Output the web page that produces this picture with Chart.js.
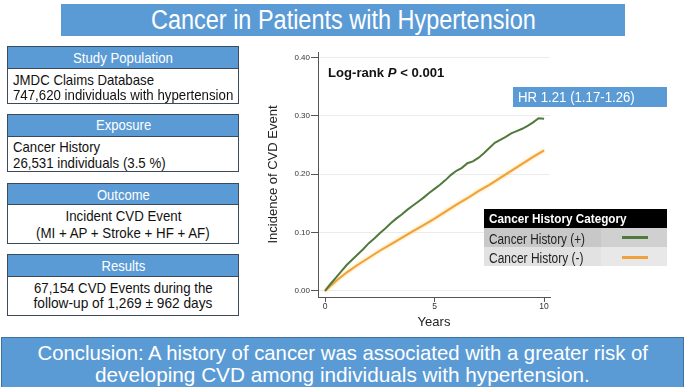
<!DOCTYPE html>
<html><head><meta charset="utf-8">
<script src="https://cdn.jsdelivr.net/npm/chart.js@4.4.1/dist/chart.umd.min.js"></script>
<style>
html,body{margin:0;padding:0;background:#fff;}
body{width:685px;height:387px;position:relative;overflow:hidden;font-family:"Liberation Sans",Arial,sans-serif;}
.box{position:absolute;box-sizing:border-box;}
.t{position:absolute;white-space:nowrap;line-height:1;}
</style></head><body>
<div class="box" style="left:61px;top:4px;width:564px;height:32px;background:#5b9bd5;"></div>

<div class="box" style="left:7px;top:46px;width:232px;height:58px;border:1px solid #3c4b5c;"><div style="height:21px;background:#5b9bd5;border-bottom:1px solid #3c4b5c;"></div></div>
<div class="box" style="left:7px;top:114px;width:232px;height:58px;border:1px solid #3c4b5c;"><div style="height:21px;background:#5b9bd5;border-bottom:1px solid #3c4b5c;"></div></div>
<div class="box" style="left:7px;top:183px;width:232px;height:61px;border:1px solid #3c4b5c;"><div style="height:20px;background:#5b9bd5;border-bottom:1px solid #3c4b5c;"></div></div>
<div class="box" style="left:7px;top:254px;width:232px;height:62px;border:1px solid #3c4b5c;"><div style="height:21px;background:#5b9bd5;border-bottom:1px solid #3c4b5c;"></div></div>

<div class="box" style="left:1px;top:337px;width:683px;height:55px;background:#5b9bd5;border:1px solid #41719c;"></div>

<canvas id="c" width="310" height="290" style="position:absolute;left:250px;top:45px;"></canvas>

<div class="box" style="left:513px;top:87px;width:154px;height:20px;background:#5b9bd5;"></div>

<div class="box" style="left:484px;top:209px;width:183px;height:19px;background:#000;"></div>
<div class="box" style="left:484px;top:228px;width:117px;height:19px;background:#c8c8c8;"></div>
<div class="box" style="left:601px;top:228px;width:66px;height:19px;background:#d0d0d0;"></div>
<div class="box" style="left:484px;top:247px;width:117px;height:19px;background:#e2e2e2;"></div>
<div class="box" style="left:601px;top:247px;width:66px;height:19px;background:#e8e8e8;"></div>
<div class="box" id="lg0" style="left:622px;top:236px;width:26px;height:3px;"></div>
<div class="box" id="lg1" style="left:622px;top:256px;width:26px;height:3px;"></div>

<script>
// ---- data ----
const seriesLabels = ['Cancer History (+)', 'Cancer History (-)'];
const seriesColors = ['#4f7a3c', '#f0a03c'];
const yearsPos = [0,0.25,0.5,0.75,1,1.25,1.5,1.75,2,2.25,2.5,2.75,3,3.25,3.5,3.75,4,4.25,4.5,4.75,5,5.25,5.5,5.75,6,6.25,6.5,6.75,7,7.25,7.5,7.75,8,8.25,8.5,8.75,9,9.25,9.5,9.75,10];
const incidencePos = [0,0.012,0.023,0.034,0.045,0.054,0.063,0.072,0.082,0.090,0.099,0.107,0.116,0.124,0.131,0.139,0.146,0.153,0.160,0.168,0.175,0.182,0.190,0.199,0.206,0.211,0.219,0.222,0.228,0.236,0.245,0.254,0.259,0.264,0.270,0.274,0.278,0.283,0.289,0.296,0.295];
const yearsNeg = [0,0.5,1,1.5,2,2.5,3,3.5,4,4.5,5,5.5,6,6.5,7,7.5,8,8.5,9,9.5,10];
const incidenceNeg = [0,0.017,0.032,0.045,0.057,0.069,0.080,0.091,0.102,0.113,0.124,0.136,0.148,0.159,0.171,0.182,0.194,0.206,0.218,0.230,0.241];
const yTicks = [0, 0.1, 0.2, 0.3, 0.4];
const xTicks = [0, 5, 10];

function T(html, x, y, o) {
  const s = document.createElement('span');
  s.className = 't';
  s.innerHTML = html;
  s.style.fontSize = o.size + 'px';
  s.style.color = o.color || '#fff';
  if (o.bold) s.style.fontWeight = 'bold';
  document.body.appendChild(s);
  const nw = s.offsetWidth, nh = s.offsetHeight;
  const k = o.w ? o.w / nw : 1;
  s.style.top = (y - nh / 2) + 'px';
  if (o.align === 'left') { s.style.left = x + 'px'; s.style.transformOrigin = 'left center'; }
  else { s.style.left = (x - nw / 2) + 'px'; s.style.transformOrigin = 'center center'; }
  s.style.transform = 'scaleX(' + k + ')';
}

T('Cancer in Patients with Hypertension', 343, 20, {size: 27, w: 385});
T('Study Population', 123, 57.5, {size: 14, w: 100});
T('JMDC Claims Database', 13, 79, {size: 15, w: 141, align: 'left', color: '#111'});
T('747,620 individuals with hypertension', 13, 94, {size: 15, w: 220, align: 'left', color: '#111'});
T('Exposure', 123, 125.3, {size: 14, w: 55});
T('Cancer History', 13, 146.7, {size: 15, w: 87, align: 'left', color: '#111'});
T('26,531 individuals (3.5 %)', 13, 162, {size: 15, w: 153, align: 'left', color: '#111'});
T('Outcome', 123, 194.5, {size: 14, w: 53});
T('Incident CVD Event', 123.5, 215.3, {size: 15, w: 116, color: '#111'});
T('(MI + AP + Stroke + HF + AF)', 123, 232, {size: 15, w: 174, color: '#111'});
T('Results', 123, 265.5, {size: 14, w: 44});
T('67,154 CVD Events during the', 123, 287, {size: 15, w: 179, color: '#111'});
T('follow-up of 1,269 \u00b1 962 days', 123, 302.5, {size: 15, w: 179, color: '#111'});
T('Conclusion: A history of cancer was associated with a greater risk of', 342.5, 352, {size: 21, w: 610});
T('developing CVD among individuals with hypertension.', 342.5, 374, {size: 21, w: 495});
T('Log-rank <i>P</i> &lt; 0.001', 328, 72, {size: 13, w: 116, bold: true, align: 'left', color: '#111'});
T('HR 1.21 (1.17-1.26)', 518, 97, {size: 14, w: 117, align: 'left'});
T('Cancer History Category', 489, 219, {size: 12.5, w: 138, bold: true, align: 'left'});
T(seriesLabels[0], 489, 238.5, {size: 14, w: 96, align: 'left', color: '#222'});
T(seriesLabels[1], 489, 258, {size: 14, w: 94, align: 'left', color: '#222'});
document.getElementById('lg0').style.background = seriesColors[0];
document.getElementById('lg1').style.background = seriesColors[1];

const glow = {
  id: 'glow',
  beforeDatasetDraw(chart, args) { if (args.index === 1) { chart.ctx.save(); chart.ctx.shadowColor = 'rgba(255,205,90,0.9)'; chart.ctx.shadowBlur = 3; } },
  afterDatasetDraw(chart, args) { if (args.index === 1) chart.ctx.restore(); }
};

new Chart(document.getElementById('c'), {
  type: 'line',
  data: {
    datasets: [
      {label: seriesLabels[0], data: yearsPos.map((x, i) => ({x: x, y: incidencePos[i]})), borderColor: seriesColors[0], borderWidth: 2, pointRadius: 0, tension: 0, fill: false},
      {label: seriesLabels[1], data: yearsNeg.map((x, i) => ({x: x, y: incidenceNeg[i]})), borderColor: seriesColors[1], borderWidth: 2, pointRadius: 0, tension: 0, fill: false}
    ]
  },
  plugins: [glow],
  options: {
    responsive: false, animation: false, devicePixelRatio: 1,
    layout: {padding: {top: 7, right: 10, bottom: 0, left: 0}},
    plugins: {legend: {display: false}, tooltip: {enabled: false}},
    font: {family: '"Liberation Sans", Arial, sans-serif'},
    scales: {
      x: {
        type: 'linear', min: -0.32, max: 10.27,
        afterBuildTicks: s => { s.ticks = xTicks.map(v => ({value: v})); },
        afterFit: s => { s.height = 38; },
        ticks: {font: {size: 8.5, family: '"Liberation Sans", Arial, sans-serif'}, color: '#333', padding: 0, maxRotation: 0, autoSkip: false},
        grid: {drawOnChartArea: false, tickLength: 5, tickColor: '#555'},
        border: {color: '#555', width: 1},
        title: {display: true, text: 'Years', font: {size: 13, family: '"Liberation Sans", Arial, sans-serif'}, color: '#222', padding: {top: 0, bottom: 5}}
      },
      y: {
        type: 'linear', min: -0.0103, max: 0.4096,
        afterBuildTicks: s => { s.ticks = yTicks.map(v => ({value: v})); },
        afterFit: s => { s.width = 68; },
        ticks: {font: {size: 8, family: '"Liberation Sans", Arial, sans-serif'}, color: '#333', padding: 1, callback: v => Number(v).toFixed(2)},
        grid: {color: '#ececec', tickLength: 7, tickColor: '#555'},
        border: {color: '#555', width: 1},
        title: {display: true, text: 'Incidence of CVD Event', font: {size: 13, family: '"Liberation Sans", Arial, sans-serif'}, color: '#222', padding: {top: 16, bottom: 0}}
      }
    }
  }
});
</script>
</body></html>
